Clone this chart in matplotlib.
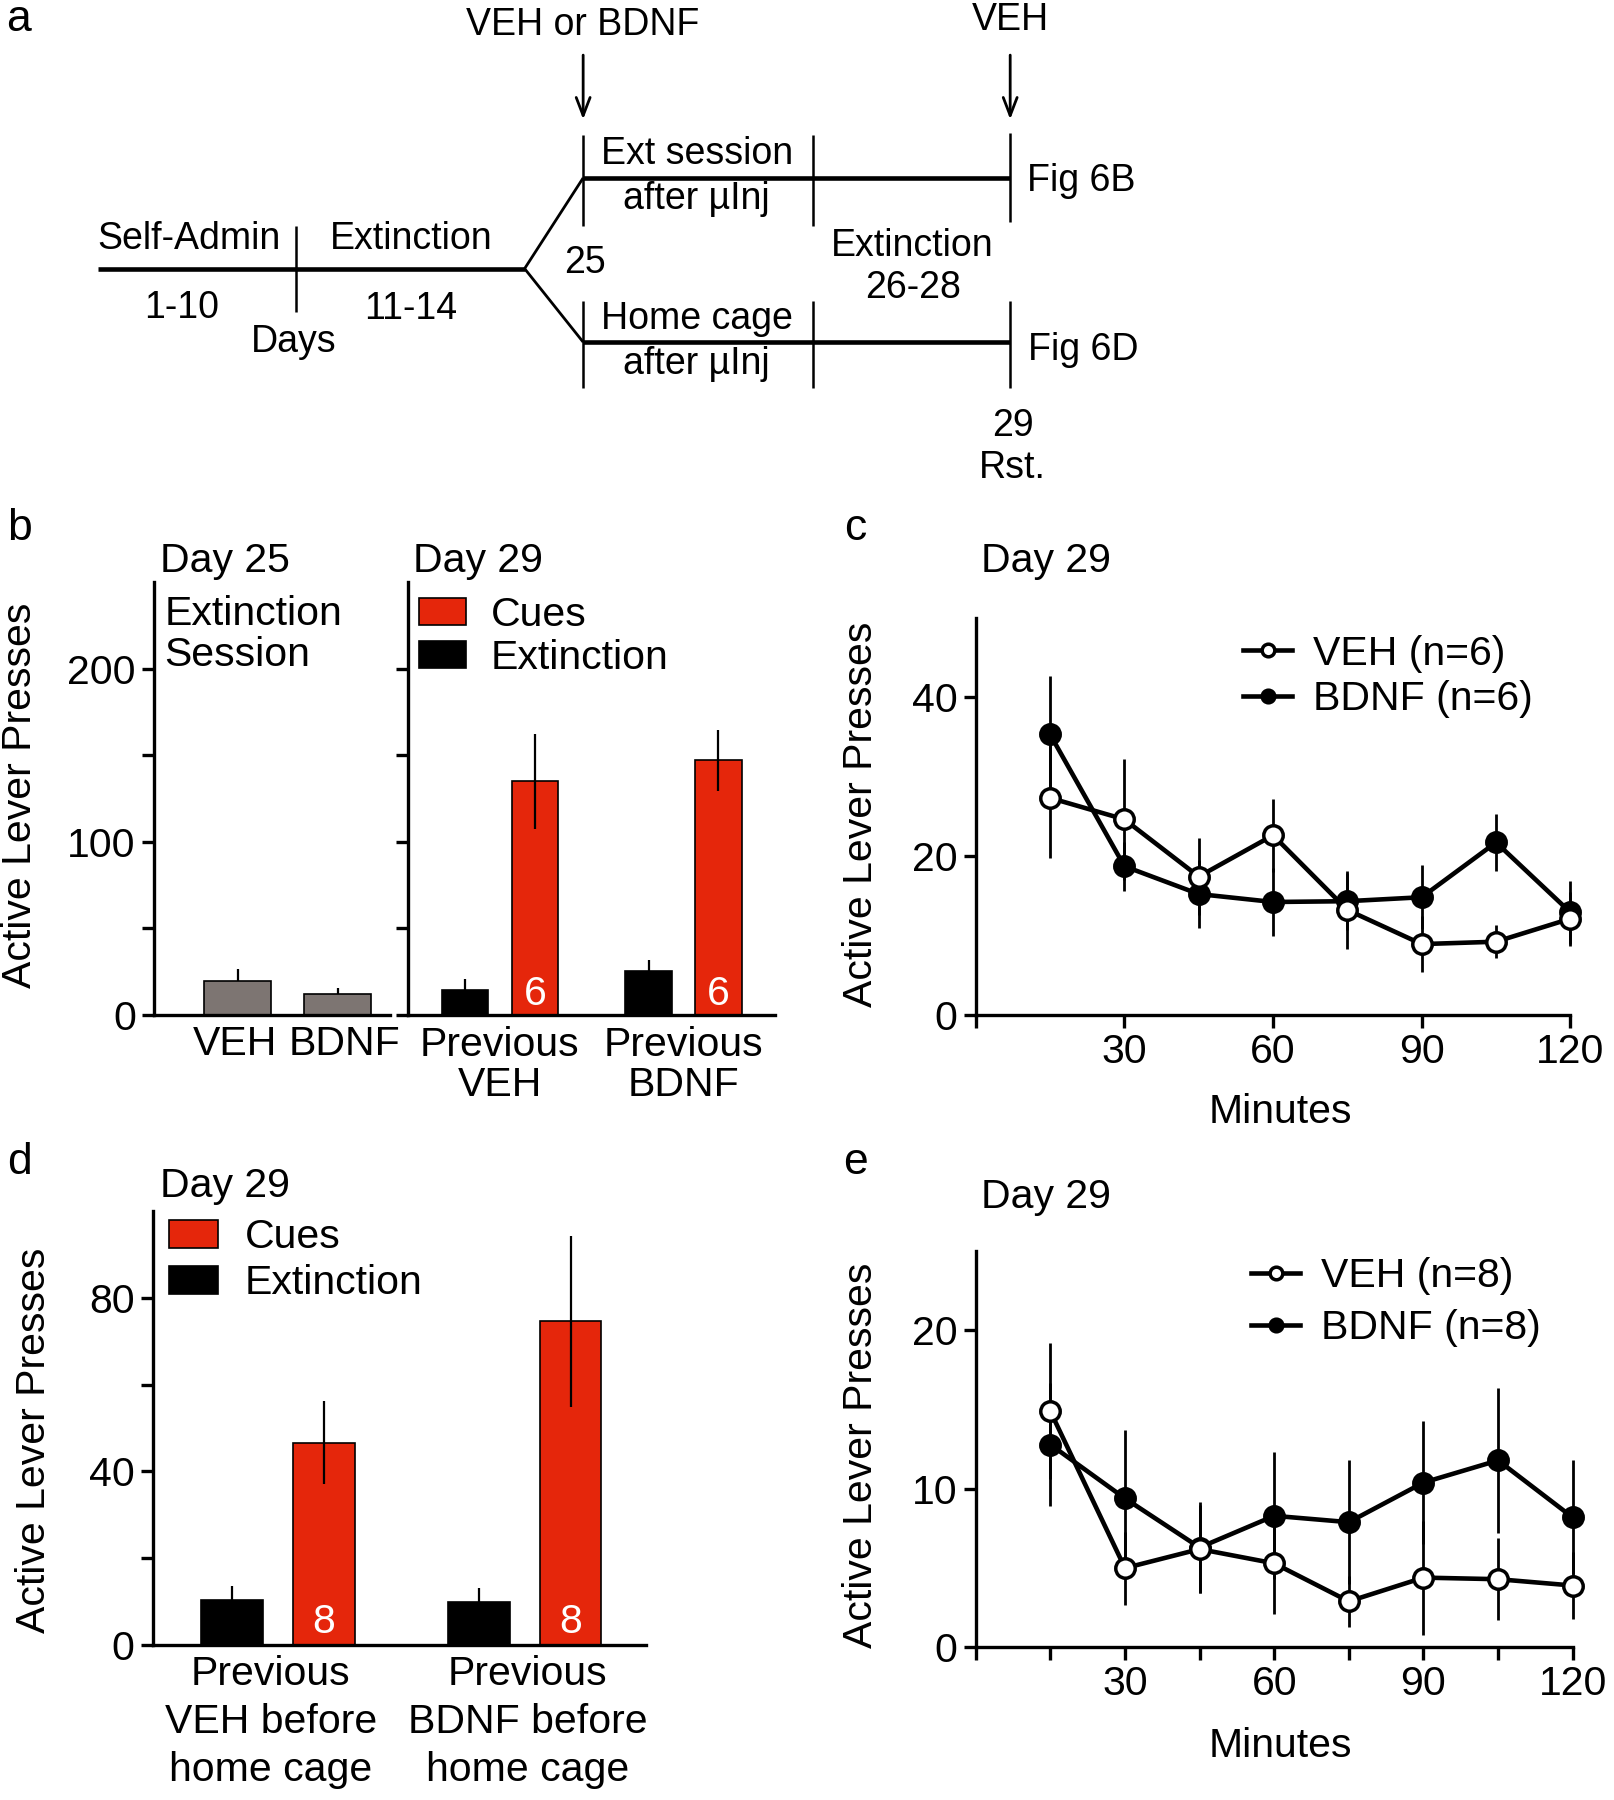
import matplotlib
matplotlib.use('Agg')
import matplotlib.pyplot as plt

plt.rcParams['font.family'] = ['Liberation Sans', 'DejaVu Sans']

# layout grid = reference at its reduced size (1406 x 1568)
W, H = 1406, 1568
FS = 29.5
FS_A = 27
RED = '#e5260b'
GREY = '#7d7572'

# ---- data ----
# panel b
b_groups25 = ['VEH', 'BDNF']
b_day25 = [19.8, 11.9]
b_day25_err = [6.9, 3.8]
b_groups29 = ['Previous\nVEH', 'Previous\nBDNF']
b_ext = [14.6, 25.5]
b_ext_err = [5.9, 6.2]
b_cues = [135.0, 146.9]
b_cues_err = [27.4, 17.7]
b_n = ['6', '6']

# panel c
minutes = [15, 30, 45, 60, 75, 90, 105, 120]
c_veh = [27.3, 24.6, 17.4, 22.6, 13.2, 8.9, 9.2, 12.1]
c_veh_err = [7.5, 7.6, 4.8, 4.6, 4.9, 3.5, 2.1, 3.4]
c_bdnf = [35.3, 18.7, 15.2, 14.2, 14.3, 14.8, 21.7, 12.9]
c_bdnf_err = [7.3, 3.1, 4.3, 4.3, 3.6, 4.0, 3.6, 4.0]
c_labels = ['VEH (n=6)', 'BDNF (n=6)']

# panel d
d_groups = ['Previous\nVEH before\nhome cage', 'Previous\nBDNF before\nhome cage']
d_ext = [10.3, 10.0]
d_ext_err = [3.3, 3.1]
d_cues = [46.6, 74.6]
d_cues_err = [9.6, 19.7]
d_n = ['8', '8']

# panel e
e_veh = [14.9, 5.0, 6.2, 5.3, 2.9, 4.4, 4.3, 3.9]
e_veh_err = [4.3, 2.3, 2.8, 3.2, 1.6, 3.6, 2.6, 2.1]
e_bdnf = [12.8, 9.4, 6.3, 8.3, 7.9, 10.4, 11.8, 8.2]
e_bdnf_err = [3.9, 4.3, 2.9, 4.0, 3.9, 3.9, 4.6, 3.6]
e_labels = ['VEH (n=8)', 'BDNF (n=8)']

# panel a timeline schematic (x0, y0, x1, y1, linewidth) on the layout grid
timeline = [
    (85, 234, 457, 234, 3.3), (508, 155, 880, 155, 3.3), (508, 298, 880, 298, 3.3),
    (457, 234, 508, 155, 2.0), (457, 234, 508, 298, 2.0),
    (258, 197, 258, 272, 1.8),
    (508, 118, 508, 197, 1.8), (708, 118, 708, 197, 1.8), (880, 116, 880, 193, 1.8),
    (508, 262, 508, 338, 1.8), (708, 262, 708, 338, 1.8), (880, 262, 880, 338, 1.8),
]
arrows = [(508, 48, 104), (880, 48, 104)]
timeline_text = [
    (508, 22, 'VEH or BDNF'), (880, 17, 'VEH'),
    (165, 208, 'Self-Admin'), (358, 208, 'Extinction'),
    (158, 268, '1-10'), (256, 298, 'Days'), (358, 269, '11-14'),
    (510, 229, '25'), (607, 134, 'Ext session'), (607, 173, 'after µInj'),
    (795, 214, 'Extinction'), (795, 251, '26-28'),
    (607, 278, 'Home cage'), (607, 317, 'after µInj'),
    (942, 158, 'Fig 6B'), (944, 305, 'Fig 6D'),
    (882, 371, '29'), (882, 408, 'Rst.'),
]


def rect(x0, y0, x1, y1):
    return [x0 / W, 1 - y1 / H, (x1 - x0) / W, (y1 - y0) / H]


def style(ax):
    for s in ['top', 'right']:
        ax.spines[s].set_visible(False)
    for s in ['left', 'bottom']:
        ax.spines[s].set_linewidth(2.4)
    ax.tick_params(which='both', direction='out', length=9, width=2.4, labelsize=FS, pad=4)
    ax.set_facecolor('none')


fig = plt.figure(figsize=(16.14, 18), dpi=100)

ov = fig.add_axes([0, 0, 1, 1], zorder=10)
ov.set_xlim(0, W)
ov.set_ylim(H, 0)
ov.axis('off')
ov.patch.set_visible(False)


def T(x, y, s, size=FS, ha='center', **kw):
    ov.text(x, y, s, fontsize=size, ha=ha, va='center', **kw)


# ---- panel a ----
for x0, y0, x1, y1, lw in timeline:
    ov.plot([x0, x1], [y0, y1], color='k', lw=lw, solid_capstyle='butt')
for x, y0, y1 in arrows:
    ov.annotate('', xy=(x, y1), xytext=(x, y0),
                arrowprops=dict(arrowstyle='->,head_length=0.65,head_width=0.25',
                                lw=2, color='k', mutation_scale=20, shrinkA=0, shrinkB=0))
for x, y, s in timeline_text:
    T(x, y, s, size=FS_A)

for x, y, s in [(16, 17, 'a'), (17, 460, 'b'), (745, 460, 'c'), (17, 1013, 'd'), (745, 1013, 'e')]:
    T(x, y, s, size=32)

# ---- panel b ----
axb1 = fig.add_axes(rect(134, 507, 340, 884))
style(axb1)
xb = range(len(b_groups25))
axb1.bar(xb, b_day25, width=0.669, color=GREY, edgecolor='k', lw=1.2, zorder=2)
axb1.errorbar(xb, b_day25, yerr=[[0] * len(b_day25), b_day25_err], fmt='none',
              ecolor='k', elinewidth=1.6, capsize=0, zorder=1)
axb1.set_xlim(-0.835, 1.522)
axb1.set_ylim(0, 250)
axb1.set_yticks([0, 100, 200])
axb1.set_yticks([50, 150], minor=True)
axb1.set_xticks(list(xb), b_groups25)
axb1.tick_params(axis='x', length=0, pad=7)
for lbl, dx in zip(axb1.get_xticklabels(), [-2, 5]):
    lbl.set_x(lbl.get_position()[0])
    lbl.set_transform(lbl.get_transform() + matplotlib.transforms.ScaledTranslation(
        dx / 72, 0, fig.dpi_scale_trans))

axb2 = fig.add_axes(rect(355, 507, 675, 884))
style(axb2)
xg = list(range(len(b_groups29)))
off, bw = 0.19, 0.253
be = axb2.bar([g - off for g in xg], b_ext, width=bw, color='k', edgecolor='k', lw=1.2, zorder=2)
bc = axb2.bar([g + off for g in xg], b_cues, width=bw, color=RED, edgecolor='k', lw=1.2, zorder=2)
axb2.errorbar([g - off for g in xg], b_ext, yerr=b_ext_err, fmt='none', ecolor='k',
              elinewidth=1.6, capsize=0, zorder=3)
axb2.errorbar([g + off for g in xg], b_cues, yerr=b_cues_err, fmt='none', ecolor='k',
              elinewidth=1.6, capsize=0, zorder=3)
for g, n in zip(xg, b_n):
    axb2.text(g + off, 12, n, color='white', fontsize=FS, ha='center', va='center', zorder=4)
axb2.set_xlim(-0.503, 1.497)
axb2.set_ylim(0, 250)
axb2.set_yticks([0, 50, 100, 150, 200], [''] * 5)
axb2.set_xticks(xg, b_groups29, linespacing=1.08)
axb2.tick_params(axis='x', length=0, pad=8)
axb2.legend([bc, be], ['Cues', 'Extinction'], loc='upper left', bbox_to_anchor=(365, 519),
            bbox_transform=ov.transData, frameon=False, fontsize=FS, handlelength=1.15,
            handleheight=0.64, handletextpad=0.6, labelspacing=0.12, borderpad=0, borderaxespad=0)

T(139, 489, 'Day 25', ha='left')
T(143, 535, 'Extinction', ha='left')
T(143, 571, 'Session', ha='left')
T(360, 489, 'Day 29', ha='left')
T(17, 693, 'Active Lever Presses', rotation=90)


# ---- line panels ----
def line_panel(r, veh, veh_err, bdnf, bdnf_err, labels, ymax, yt, minor, leg_xy, leg_sp):
    ax = fig.add_axes(r)
    style(ax)
    kw = dict(color='k', lw=3.3, ms=14, mew=2.5, ecolor='k', elinewidth=2, capsize=0,
              clip_on=False)
    lb = ax.errorbar(minutes, bdnf, yerr=bdnf_err, marker='o', mfc='k', zorder=3, **kw)
    lv = ax.errorbar(minutes, veh, yerr=veh_err, marker='o', mfc='white', zorder=4, **kw)
    for cont in (lb, lv):
        for art in cont.get_children():
            art.set_clip_on(False)
    ax.set_xlim(0, 120)
    ax.set_ylim(0, ymax)
    ax.set_yticks(yt)
    ax.set_xticks([0, 30, 60, 90, 120], ['', '30', '60', '90', '120'])
    if minor:
        ax.set_xticks(minor, minor=True)
    ax.legend([lv[0], lb[0]], labels, loc='upper left', bbox_to_anchor=leg_xy,
              bbox_transform=ov.transData, frameon=False, fontsize=FS, handlelength=1.2,
              handletextpad=0.5, labelspacing=leg_sp, borderpad=0, borderaxespad=0,
              markerscale=0.65)
    return ax


line_panel(rect(850, 538, 1368, 884), c_veh, c_veh_err, c_bdnf, c_bdnf_err, c_labels,
           50, [0, 20, 40], None, (1083, 553), 0.18)
T(855, 489, 'Day 29', ha='left')
T(1115, 969, 'Minutes')
T(750, 709, 'Active Lever Presses', rotation=90)

line_panel(rect(850, 1090, 1370, 1435), e_veh, e_veh_err, e_bdnf, e_bdnf_err, e_labels,
           25, [0, 10, 20], [15, 45, 75, 105], (1090, 1095), 0.35)
T(855, 1043, 'Day 29', ha='left')
T(1115, 1521, 'Minutes')
T(750, 1268, 'Active Lever Presses', rotation=90)

# ---- panel d ----
axd = fig.add_axes(rect(133, 1055, 563, 1433))
style(axd)
xd = list(range(len(d_groups)))
off, bw = 0.186, 0.251
de = axd.bar([g - off for g in xd], d_ext, width=bw, color='k', edgecolor='k', lw=1.2, zorder=2)
dc = axd.bar([g + off for g in xd], d_cues, width=bw, color=RED, edgecolor='k', lw=1.2, zorder=2)
axd.errorbar([g - off for g in xd], d_ext, yerr=d_ext_err, fmt='none', ecolor='k',
             elinewidth=1.6, capsize=0, zorder=3)
axd.errorbar([g + off for g in xd], d_cues, yerr=d_cues_err, fmt='none', ecolor='k',
             elinewidth=1.6, capsize=0, zorder=3)
for g, n in zip(xd, d_n):
    axd.text(g + off, 5.3, n, color='white', fontsize=FS, ha='center', va='center', zorder=4)
axd.set_xlim(-0.507, 1.493)
axd.set_ylim(0, 100)
axd.set_yticks([0, 40, 80])
axd.set_yticks([20, 60], minor=True)
axd.set_xticks(xd, d_groups, linespacing=1.33)
axd.tick_params(axis='x', length=0, pad=7)
for lbl, dx in zip(axd.get_xticklabels(), [-5, 2]):
    lbl.set_transform(lbl.get_transform() + matplotlib.transforms.ScaledTranslation(
        dx / 72, 0, fig.dpi_scale_trans))
axd.legend([dc, de], ['Cues', 'Extinction'], loc='upper left', bbox_to_anchor=(147, 1061),
           bbox_transform=ov.transData, frameon=False, fontsize=FS, handlelength=1.2,
           handleheight=0.68, handletextpad=0.65, labelspacing=0.2, borderpad=0, borderaxespad=0)
T(139, 1033, 'Day 29', ha='left')
T(30, 1255, 'Active Lever Presses', rotation=90)

fig.savefig('out.png', dpi=100)
